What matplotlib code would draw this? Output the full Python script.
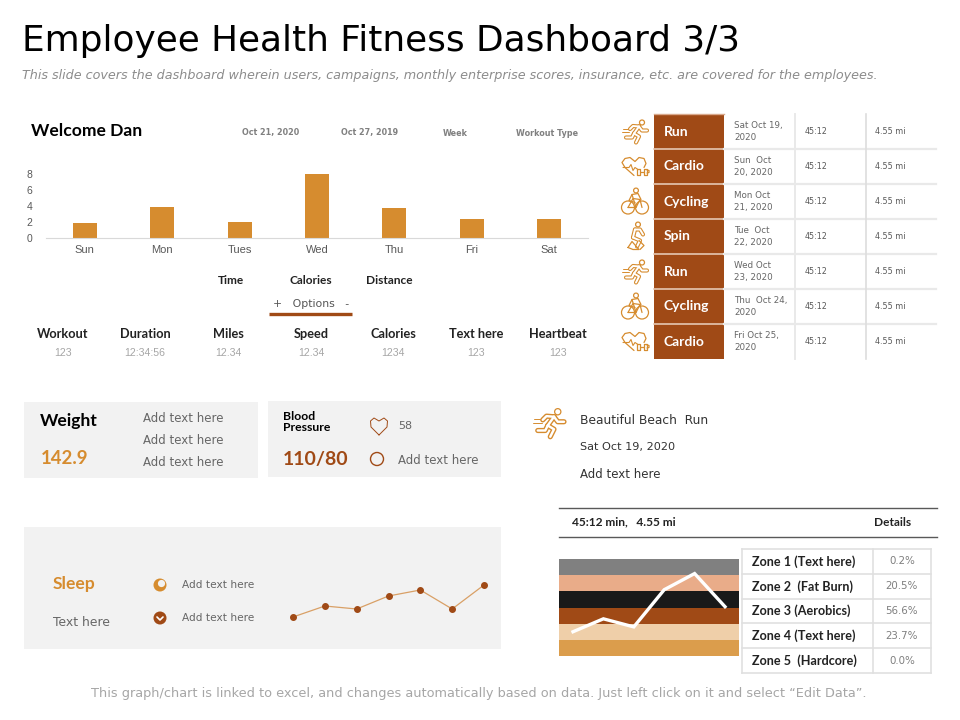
#!/usr/bin/env python3
# Employee health fitness dashboard slide, laid out on a 960x720 pixel canvas
import matplotlib
matplotlib.use('Agg')
import matplotlib.pyplot as plt
from matplotlib.patches import Rectangle, Circle

# ── Data ──
days = ['Sun', 'Mon', 'Tues', 'Wed', 'Thu', 'Fri', 'Sat']
day_values = [1.9, 3.9, 2.0, 8.0, 3.8, 2.4, 2.4]

stat_names = ['Workout', 'Duration', 'Miles', 'Speed', 'Calories', 'Text here', 'Heartbeat']
stat_values = ['123', '12:34:56', '12.34', '12.34', '1234', '123', '123']

workouts = ['Run', 'Cardio', 'Cycling', 'Spin', 'Run', 'Cycling', 'Cardio']
workout_dates = ['Sat Oct 19,\n2020', 'Sun  Oct\n20, 2020', 'Mon Oct\n21, 2020', 'Tue  Oct\n22, 2020',
                 'Wed Oct\n23, 2020', 'Thu  Oct 24,\n2020', 'Fri Oct 25,\n2020']
workout_times = ['45:12'] * 7
workout_miles = ['4.55 mi'] * 7

sleep_values = [1.0, 2.1, 1.8, 3.1, 3.7, 1.8, 4.2]

band_colors = ['#DB9D4C', '#EFCFA9', '#A04A16', '#191919', '#E9AC89', '#808080']
zone_line = [1.0, 1.8, 1.3, 3.6, 4.6, 2.55]

zone_names = ['Zone 1 (Text here)', 'Zone 2  (Fat Burn)', 'Zone 3 (Aerobics)',
              'Zone 4 (Text here)', 'Zone 5  (Hardcore)']
zone_pcts = ['0.2%', '20.5%', '56.6%', '23.7%', '0.0%']

ORANGE = '#D68C2F'
BROWN = '#A04A16'
PANEL = '#F2F2F2'
NARROW = ['Liberation Sans Narrow', 'Liberation Sans']
SEMI = 'Lato'

plt.rcParams['font.family'] = 'DejaVu Sans'
W, H = 960, 720
fig = plt.figure(figsize=(9.6, 7.2), dpi=100, facecolor='white')

# Overlay axes in pixel coordinates, y pointing down like the slide
pg = fig.add_axes([0, 0, 1, 1])
pg.set_xlim(0, W)
pg.set_ylim(H, 0)
pg.axis('off')


def inset(x0, y0, x1, y1):
    """Axes covering a pixel box of the slide."""
    a = fig.add_axes([x0 / W, 1 - y1 / H, (x1 - x0) / W, (y1 - y0) / H])
    a.patch.set_alpha(0)
    return a


def txt(x, y, s, size=8, color='black', weight='normal', ha='left', va='center', **kw):
    pg.text(x, y, s, fontsize=size, color=color, fontweight=weight, ha=ha, va=va, **kw)


def rect(x0, y0, x1, y1, color):
    pg.add_patch(Rectangle((x0, y0), x1 - x0, y1 - y0, facecolor=color, edgecolor='none', zorder=0.5))


def poly(pts, lw=0.9, color=ORANGE):
    xs, ys = zip(*pts)
    pg.plot(xs, ys, color=color, lw=lw, solid_capstyle='round', solid_joinstyle='round')


def ring(x, y, r, lw=0.9, color=ORANGE):
    pg.add_patch(Circle((x, y), r, fill=False, edgecolor=color, lw=lw))


def limbs(paths, outer=3.2, inner=1.6):
    """Hollow strokes: a wide orange pass, then a white pass on top."""
    for p in paths:
        poly(p, lw=outer)
    for p in paths:
        poly(p, lw=inner, color='white')


def shift(pts, x, y, s=1.0):
    return [(x + a * s, y + b * s) for a, b in pts]


# ── Line icons ──
def icon_run(x, y, s=1.0):
    ring(x + 7 * s, y - 9 * s, 2.5 * s)
    limbs([shift(p, x, y, s) for p in [
        [(4, -5), (-2, -5.5), (-5, -2.5)],
        [(4, -5), (7, -1), (12, -1)],
        [(4, -5), (-1, 2)],
        [(-1, 2), (-3, 6), (-9, 6)],
        [(-1, 2), (4, 5), (1, 11)],
    ]], outer=3.0 * s, inner=1.4 * s)
    poly(shift([(-12, -3), (-7, -3)], x, y, s), lw=0.7)
    poly(shift([(-13, 0), (-6, 0)], x, y, s), lw=0.7)


def icon_cardio(x, y):
    poly(shift([(-1, 9), (-10, 1), (-13, -4), (-10, -8), (-5, -9), (0, -5), (4, -9), (9, -8), (11, -3), (9, 1)], x, y))
    poly(shift([(-12, 1), (-6, 1), (-4, -2), (-2, 4), (0, 1), (3, 3)], x, y), lw=0.8)
    poly(shift([(2, 2), (2, 8), (5, 8), (5, 2), (2, 2)], x, y))
    poly(shift([(5, 5), (9, 5)], x, y))
    poly(shift([(9, 2), (9, 8), (12, 8), (12, 2), (9, 2)], x, y))
    poly(shift([(12, 3.5), (14, 4), (14, 6), (12, 6.5)], x, y))


def icon_bike(x, y):
    ring(x - 7, y + 6, 6.5)
    ring(x + 7, y + 6, 6.5)
    ring(x + 1, y - 11, 2.4)
    poly(shift([(-7, 6), (-2, -3), (5, -2), (7, 6)], x, y))
    poly(shift([(-7, 6), (1, 6), (-3, -7), (3, -8), (6, -2)], x, y))
    poly(shift([(1, 6), (5, -2)], x, y))
    poly(shift([(-3, -7), (-6, -1), (0, 1)], x, y))


def icon_spin(x, y):
    ring(x + 3, y - 12, 2.4)
    limbs([shift(p, x, y) for p in [
        [(0, -7), (-2, 1)],
        [(0, -7), (5, -7), (8, -2)],
        [(-2, 1), (5, 4), (2, 10)],
    ]], outer=3.0, inner=1.4)
    poly(shift([(-7, 11), (-3, 5), (4, 13), (-2, 13), (-7, 11)], x, y))
    poly(shift([(4, 4), (9, 9), (5, 13)], x, y))


ICONS = {'Run': icon_run, 'Cardio': icon_cardio, 'Cycling': icon_bike, 'Spin': icon_spin}

# ── Header ──
txt(22, 41, 'Employee Health Fitness Dashboard 3/3', size=25.8)
txt(22, 76, 'This slide covers the dashboard wherein users, campaigns, monthly enterprise scores, insurance, etc. '
            'are covered for the employees.', size=9.2, color='#8C8C8C', style='italic')

# ── Welcome block ──
txt(31, 131, 'Welcome Dan', size=12.6, weight='bold', family=SEMI)
for x, s in zip([271, 370, 455, 547], ['Oct 21, 2020', 'Oct 27, 2019', 'Week', 'Workout Type']):
    txt(x, 133, s, size=5.8, color='#808080', ha='center', weight='bold')

# Bar chart
bx = inset(46, 174, 588, 238)
bx.bar(range(len(days)), day_values, width=0.31, color=ORANGE)
bx.set_xlim(-0.5, 6.5)
bx.set_ylim(0, 8)
bx.set_xticks(range(len(days)), days, family=NARROW, fontsize=8, color='#595959')
bx.set_yticks([0, 2, 4, 6, 8])
bx.tick_params(axis='y', labelsize=7.5, labelcolor='#595959', length=0, pad=10)
bx.tick_params(axis='x', length=0, pad=5)
for lab in bx.get_yticklabels():
    lab.set_family(NARROW)
for side in ['top', 'right', 'left']:
    bx.spines[side].set_visible(False)
bx.spines['bottom'].set_color('#D9D9D9')

for x, s in zip([231, 311, 389], ['Time', 'Calories', 'Distance']):
    txt(x, 281, s, size=8.6, ha='center', weight='bold', color='#222222', family=SEMI)
txt(311, 304, '+   Options   -', size=7.8, ha='center', color='#555555')
pg.plot([269, 352], [314, 314], color=BROWN, lw=2.4, solid_capstyle='butt')

for x, name, val in zip([63, 145, 228, 311, 393, 476, 558], stat_names, stat_values):
    txt(x, 334, name, size=9.2, ha='center', weight='bold', color='#222222', family=SEMI)
    txt(x, 353, val, size=7.6, ha='center', color='#A6A6A6', family=NARROW)

# ── Workout table ──
row_h = 35
top = 114
for i, (name, date, t, mi) in enumerate(zip(workouts, workout_dates, workout_times, workout_miles)):
    y0 = top + i * row_h
    yc = y0 + row_h / 2
    rect(654, y0, 724, y0 + row_h, BROWN)
    if i:
        pg.plot([654, 724], [y0, y0], color='#E5C7B3', lw=1.2)
        pg.plot([724, 936], [y0, y0], color='#E9E9E9', lw=1.6)
    txt(664, yc, name, size=10, color='white', weight='bold', family=SEMI)
    txt(734, yc, date, size=6.3, color='#666666', linespacing=1.4)
    txt(805, yc, t, size=5.8, color='#595959')
    txt(875, yc, mi, size=5.8, color='#595959')
    ICONS[name](635, yc)
pg.plot([654, 724], [114, 114], color='#D9A98C', lw=1)
pg.plot([795, 795], [114, 359], color='#E9E9E9', lw=1.4)
pg.plot([866, 866], [114, 359], color='#DDDDDD', lw=1.2)

# ── Weight and blood pressure panels ──
rect(24, 402, 258, 478, PANEL)
rect(268, 401, 501, 477, PANEL)
txt(40, 421, 'Weight', size=12.6, weight='bold', family=SEMI)
txt(41, 458, '142.9', size=13.4, weight='bold', color=ORANGE, family=SEMI)
for y in [418, 441, 463]:
    txt(143, y, 'Add text here', size=8.5, color='#666666')

txt(283, 422, 'Blood\nPressure', size=8.8, weight='bold', linespacing=1.1, family=SEMI)
txt(283, 459, '110/80', size=14, weight='bold', color=BROWN, family=SEMI)
poly([(379, 435), (371, 427), (370.5, 421), (374, 418), (379, 421), (384, 418), (387.5, 421), (387, 427),
      (379, 435)], lw=0.7, color=BROWN)
txt(398, 426, '58', size=8, color='#666666')
ring(377, 459, 6.5, lw=1.0, color=BROWN)
txt(398, 460, 'Add text here', size=8.5, color='#666666')

# ── Beach run summary ──
icon_run(549, 423, s=1.25)
txt(580, 420, 'Beautiful Beach  Run', size=8.8, color='#333333')
txt(580, 447, 'Sat Oct 19, 2020', size=8.1, color='#333333')
txt(580, 474, 'Add text here', size=8.5, color='#333333')

pg.plot([559, 937], [508, 508], color='#595959', lw=1)
pg.plot([559, 937], [537, 537], color='#595959', lw=1)
txt(572, 522, '45:12 min,   4.55 mi', size=8.6, weight='bold', color='#222222', family=SEMI)
txt(893, 522, 'Details', size=8.6, weight='bold', color='#222222', ha='center', family=SEMI)

# Zone stripes with the white trace over them
zx = inset(559, 559, 739, 656)
zx.barh(range(len(band_colors)), 5.92, left=-0.46, height=1.0, color=band_colors)
zx.plot(range(len(zone_line)), zone_line, color='white', lw=2.4, solid_joinstyle='miter')
zx.set_xlim(-0.46, 5.46)
zx.set_ylim(-0.5, 5.5)
zx.axis('off')

# Zone table
zt, zb = 549, 673
zh = (zb - zt) / len(zone_names)
for i, (name, pct) in enumerate(zip(zone_names, zone_pcts)):
    yc = zt + zh * (i + 0.5)
    txt(752, yc, name, size=9.1, weight='bold', color='#222222', family=SEMI)
    txt(902, yc, pct, size=7.4, color='#7F7F7F', ha='center')
for i in range(len(zone_names) + 1):
    pg.plot([742, 931], [zt + i * zh] * 2, color='#E0E0E0', lw=1.2)
for x in [742, 873, 931]:
    pg.plot([x, x], [zt, zb], color='#E0E0E0', lw=1.2)

# ── Sleep panel ──
rect(24, 527, 501, 649, PANEL)
txt(53, 584, 'Sleep', size=12.6, weight='bold', color=ORANGE, family=SEMI)
txt(53, 622, 'Text here', size=8.9, color='#666666')
pg.add_patch(Circle((160, 585), 6.5, facecolor=ORANGE, edgecolor='none'))
pg.add_patch(Circle((161.5, 583.5), 3.6, facecolor=PANEL, edgecolor='none'))
pg.add_patch(Circle((160, 618), 6.5, facecolor=BROWN, edgecolor='none'))
poly([(157, 617), (160, 620), (163, 617)], lw=1.2, color='white')
txt(182, 585, 'Add text here', size=7.6, color='#666666')
txt(182, 618, 'Add text here', size=7.6, color='#666666')

sx = inset(293, 585, 484, 617)
sx.plot(range(len(sleep_values)), sleep_values, color='#D9A066', lw=0.9, marker='o', ms=4,
        mfc=BROWN, mec=BROWN, clip_on=False)
sx.set_xlim(0, len(sleep_values) - 1)
sx.set_ylim(1.0, 4.2)
sx.axis('off')

# ── Footer ──
txt(479, 694, 'This graph/chart is linked to excel, and changes automatically based on data. '
              'Just left click on it and select \u201cEdit Data\u201d.', size=9.3, color='#A6A6A6', ha='center')

fig.savefig('out.png', dpi=100)
plt.close()
